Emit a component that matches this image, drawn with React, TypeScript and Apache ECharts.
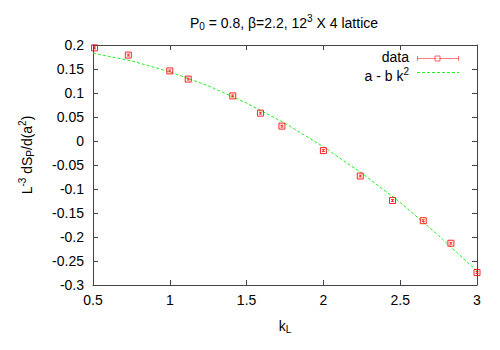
import React, { useEffect, useRef } from "react";
import * as echarts from "echarts";

const kValues = [0.51, 0.73, 1.0, 1.12, 1.41, 1.59, 1.73, 2.0, 2.24, 2.45, 2.65, 2.83, 3.0];
const dataValues = [0.194, 0.179, 0.146, 0.129, 0.094, 0.058, 0.031, -0.02, -0.073, -0.124, -0.166, -0.213, -0.274];
const dataErrors = [0.002, 0.002, 0.002, 0.002, 0.002, 0.002, 0.002, 0.002, 0.002, 0.002, 0.002, 0.002, 0.002];

const fitK = [0.5, 0.75, 1.0, 1.25, 1.5, 1.75, 2.0, 2.25, 2.5, 2.75, 3.0];
const fitValues = [0.183, 0.167, 0.144, 0.115, 0.079, 0.037, -0.012, -0.067, -0.128, -0.197, -0.271];

const xTicks = [0.5, 1, 1.5, 2, 2.5, 3];
const yTicks = [0.2, 0.15, 0.1, 0.05, 0, -0.05, -0.1, -0.15, -0.2, -0.25, -0.3];

const FONT = "'Liberation Sans', Arial, sans-serif";
const RED = "#ff0000";
const GREEN = "#22f022";
const AXIS = "#444444";

export default function App() {
  const ref = useRef<HTMLDivElement>(null);
  useEffect(() => {
    if (!ref.current) return;
    document.body.style.margin = "0";
    const chart = echarts.init(ref.current, null, { renderer: "svg" });
    const points = kValues.map((k, i) => [k, dataValues[i], dataErrors[i]]);
    const fit = fitK.map((k, i) => [k, fitValues[i]]);
    const xMin = xTicks[0];
    const xMax = xTicks[xTicks.length - 1];
    const yMin = yTicks[yTicks.length - 1];
    const yMax = yTicks[0];
    const axisCommon = {
      axisLine: { show: true, onZero: false, lineStyle: { color: AXIS, width: 1 } },
      axisTick: { show: true, inside: true, length: 5, lineStyle: { color: AXIS } },
      splitLine: { show: false },
    };
    const sup = { fontSize: 10, padding: [0, 0, 9, 0], fontFamily: FONT, color: "#000" };
    const sub = { fontSize: 10, padding: [7, 0, 0, 0], fontFamily: FONT, color: "#000" };
    const base = { fontSize: 14, fontFamily: FONT, color: "#000" };
    chart.setOption({
      animation: false,
      backgroundColor: "#fff",
      grid: { left: 93, right: 23, top: 45, bottom: 65, containLabel: false },
      xAxis: [
        {
          type: "value",
          min: xMin,
          max: xMax,
          interval: 0.5,
          ...axisCommon,
          axisLabel: { fontSize: 14, fontFamily: FONT, color: "#000", margin: 8 },
        },
        {
          type: "value",
          position: "top",
          min: xMin,
          max: xMax,
          interval: 0.5,
          ...axisCommon,
          axisLabel: { show: false },
        },
      ],
      yAxis: [
        {
          type: "value",
          min: yMin,
          max: yMax,
          interval: 0.05,
          ...axisCommon,
          axisLabel: {
            fontSize: 14,
            fontFamily: FONT,
            color: "#000",
            margin: 9,
            formatter: (v: number) => String(Math.round(v * 100) / 100),
          },
        },
        {
          type: "value",
          position: "right",
          min: yMin,
          max: yMax,
          interval: 0.05,
          ...axisCommon,
          axisLabel: { show: false },
        },
      ],
      series: [
        {
          type: "line",
          data: fit,
          showSymbol: false,
          symbol: "none",
          lineStyle: { color: GREEN, width: 1, type: [3, 2] },
          z: 2,
        },
        {
          type: "custom",
          data: points,
          renderItem: (params: any, api: any) => {
            const x = api.value(0);
            const y = api.value(1);
            const e = api.value(2);
            const lo = api.coord([x, y - e]);
            const hi = api.coord([x, y + e]);
            const c = 1.5;
            const st = { stroke: RED, lineWidth: 0.8 };
            return {
              type: "group",
              children: [
                { type: "line", shape: { x1: lo[0], y1: lo[1], x2: hi[0], y2: hi[1] }, style: st },
                { type: "line", shape: { x1: lo[0] - c, y1: lo[1], x2: lo[0] + c, y2: lo[1] }, style: st },
                { type: "line", shape: { x1: hi[0] - c, y1: hi[1], x2: hi[0] + c, y2: hi[1] }, style: st },
              ],
            };
          },
          z: 3,
        },
        {
          type: "scatter",
          data: points.map((p) => [p[0], p[1]]),
          symbol: "rect",
          symbolSize: 6,
          itemStyle: { color: "rgba(0,0,0,0)", borderColor: RED, borderWidth: 1, opacity: 0.85 },
          z: 4,
        },
      ],
      graphic: [
        {
          type: "text",
          x: 284,
          y: 23,
          style: {
            text: "P{sub|0} = 0.8, β=2.2, 12{sup|3} X 4 lattice",
            ...base,
            align: "center",
            verticalAlign: "middle",
            rich: { sub, sup },
          },
        },
        {
          type: "text",
          x: 285,
          y: 326,
          style: {
            text: "k{sub|L}",
            ...base,
            align: "center",
            verticalAlign: "middle",
            rich: { sub },
          },
        },
        {
          type: "text",
          x: 27,
          y: 155,
          rotation: Math.PI / 2,
          style: {
            text: "L{sup|-3} dS{sub|P}/d(a{sup|2})",
            ...base,
            align: "center",
            verticalAlign: "middle",
            rich: { sub, sup },
          },
        },
        {
          type: "text",
          x: 409,
          y: 57,
          style: { text: "data", ...base, align: "right", verticalAlign: "middle" },
        },
        {
          type: "text",
          x: 409,
          y: 76,
          style: {
            text: "a - b k{sup|2}",
            ...base,
            align: "right",
            verticalAlign: "middle",
            rich: { sup },
          },
        },
        { type: "line", shape: { x1: 417, y1: 58.5, x2: 459, y2: 58.5 }, style: { stroke: RED, lineWidth: 1, opacity: 0.5 } },
        { type: "line", shape: { x1: 417.5, y1: 56, x2: 417.5, y2: 61 }, style: { stroke: RED, lineWidth: 1, opacity: 0.5 } },
        { type: "line", shape: { x1: 458.5, y1: 56, x2: 458.5, y2: 61 }, style: { stroke: RED, lineWidth: 1, opacity: 0.5 } },
        { type: "rect", shape: { x: 435, y: 56, width: 5, height: 5 }, style: { fill: "#fff", stroke: RED, lineWidth: 1, opacity: 0.6 } },
        { type: "line", shape: { x1: 417, y1: 72.5, x2: 459, y2: 72.5 }, style: { stroke: GREEN, lineWidth: 1, lineDash: [3, 2] } },
      ],
    });
    return () => chart.dispose();
  }, []);
  return <div ref={ref} style={{ width: 500, height: 350 }} />;
}
